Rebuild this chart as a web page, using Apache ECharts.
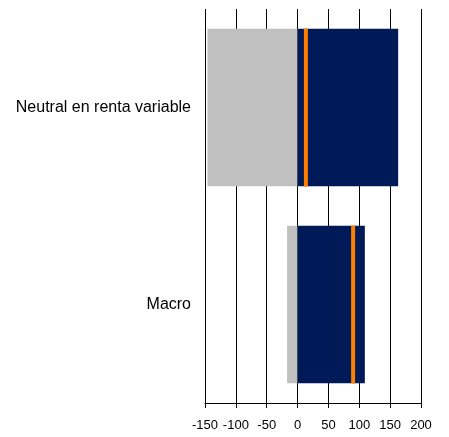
<!DOCTYPE html>
<html><head><meta charset="utf-8">
<script src="https://cdn.jsdelivr.net/npm/echarts@6/dist/echarts.min.js"></script>
<style>html,body{margin:0;padding:0;background:#fff}#c{width:449px;height:437px}</style>
</head><body><div id="c"></div>
<script>
const categories = ['Neutral en renta variable', 'Macro'];
const negValues = [-146, -17];
const posValues = [163, 109];
const markerValues = [13.5, 90];
const xTicks = [-150, -100, -50, 0, 50, 100, 150, 200];

const chart = echarts.init(document.getElementById('c'), null, {renderer: 'canvas'});
chart.setOption({
  animation: false,
  grid: {left: 205, right: 28, top: 9, bottom: 34, containLabel: false},
  xAxis: {
    type: 'value', min: xTicks[0], max: xTicks[xTicks.length - 1], interval: 50,
    axisLine: {show: true, onZero: false, lineStyle: {color: '#000', width: 1}},
    axisTick: {show: true, length: 5, lineStyle: {color: '#000'}},
    axisLabel: {color: '#000', fontFamily: 'Liberation Sans, Arial, sans-serif', fontSize: 13, margin: 16},
    splitLine: {show: true, lineStyle: {color: '#000', width: 1}}
  },
  yAxis: [{
    type: 'category', data: categories, inverse: true,
    axisLine: {show: false}, axisTick: {show: false},
    axisLabel: {color: '#000', fontFamily: 'Liberation Sans, Arial, sans-serif', fontSize: 16, margin: 14}
  }],
  series: [
    {type: 'bar', stack: 'a', data: negValues, barWidth: '80%', itemStyle: {color: '#c0c0c0'}},
    {type: 'bar', stack: 'a', data: posValues, barWidth: '80%', itemStyle: {color: '#001a57'}},
    {type: 'scatter', data: markerValues.map((v, i) => [v, categories[i]]),
     symbol: 'rect', symbolSize: [4, 158], itemStyle: {color: '#ff8000', opacity: 1}, z: 5}
  ]
});
</script></body></html>
